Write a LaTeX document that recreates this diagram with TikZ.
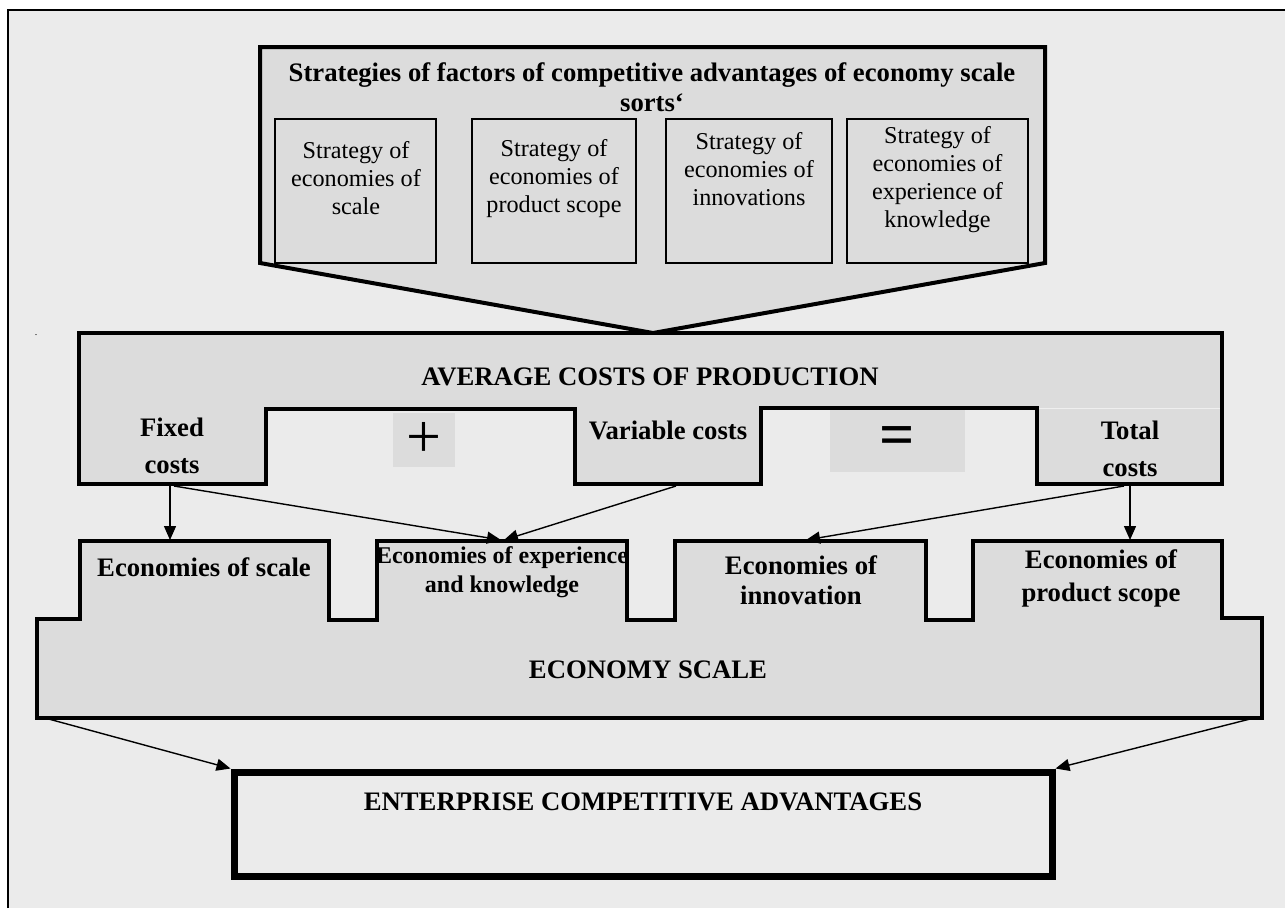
\documentclass[tikz,border=0pt]{standalone}
\usepackage{fontspec}
\setmainfont{Liberation Serif}
\usepackage{tikz}
\usetikzlibrary{arrows.meta}

\definecolor{bggray}{HTML}{EBEBEB}
\definecolor{boxgray}{HTML}{DCDCDC}

\tikzset{
  block/.style={draw=black,fill=boxgray,line width=3.5pt,line join=miter},
  stratbox/.style={draw=black,fill=boxgray,line width=1.6pt,minimum width=#1,minimum height=144pt,inner sep=0pt},
  arr/.style={line width=1.4pt,-{Triangle[length=14pt,width=12pt]}},
  bold label/.style={font=\fontsize{26.7}{30}\selectfont\bfseries,align=center,inner sep=0pt},
  cost label/.style={font=\fontsize{26.7}{37}\selectfont\bfseries,align=center,inner sep=0pt},
  plain label/.style={font=\fontsize{24.2}{28}\selectfont,align=center,inner sep=0pt},
}

\begin{document}
\begin{tikzpicture}[x=1pt,y=-1pt]
            \useasboundingbox (0,0) rectangle (1285,908);
            \fill[white] (0,0) rectangle (1285,908);
            \fill[bggray] (8,10) rectangle (1285,908);
            \draw[line width=2pt] (8,908) -- (8,10) -- (1285,10);
            \node[font=\fontsize{10}{10}\selectfont,anchor=base,inner sep=0pt] (dot) at (36,335) {.};

            \coordinate (tip) at (653,333);
            \draw[block,line width=4pt] (260,47) -- (1045,47) -- (1045,263) -- (tip) -- (260,263) -- cycle;
            \node[bold label] (title) at (652,87) {Strategies of factors of competitive advantages of economy scale\\sorts‘};

            \node[stratbox=161pt] (s1) at (355.5,191) {};
            \node[stratbox=164pt] (s2) at (554,191) {};
            \node[stratbox=166pt] (s3) at (749,191) {};
            \node[stratbox=181pt] (s4) at (937.5,191) {};
            \node[plain label] (t1) at (356,178.5) {Strategy of\\economies of\\scale};
            \node[plain label] (t2) at (554,178.5) {Strategy of\\economies of\\product scope};
            \node[plain label] (t3) at (749,169.5) {Strategy of\\economies of\\innovations};
            \node[plain label] (t4) at (937.5,180) {Strategy of\\economies of\\experience of\\knowledge};

            \draw[block] (79,333) -- (1222,333) -- (1222,484) -- (1037,484) -- (1037,408) -- (761,408) -- (761,484) -- (575,484) -- (575,409) -- (266,409) -- (266,484) -- (79,484) -- cycle;
            \draw[white!55!boxgray,line width=1pt] (1039,408) -- (1220,408);
            \node[bold label] (avg) at (650,377) {AVERAGE COSTS OF PRODUCTION};
            \node[cost label] (fixed) at (172,445.5) {Fixed\\costs};
            \node[bold label] (variable) at (668,430) {Variable costs};
            \node[cost label] (total) at (1130,448.5) {Total\\costs};
            \node[fill=boxgray,minimum width=62pt,minimum height=54pt,font=\fontsize{62}{62}\selectfont] (plus) at (424,440) {+};
            \node[fill=boxgray,minimum width=135pt,minimum height=62pt,font=\fontsize{62}{62}\selectfont\bfseries] (equal) at (897.5,441) {=};

            \draw[block] (37,619) -- (80,619) -- (80,541) -- (329,541) -- (329,620) -- (377,620) -- (377,541) -- (627,541) -- (627,620) -- (675,620) -- (675,541) -- (926,541) -- (926,620) -- (973,620) -- (973,541) -- (1222,541) -- (1222,618) -- (1262,618) -- (1262,718) -- (37,718) -- cycle;
            \node[bold label] (escale) at (204,567) {Economies of scale};
            \node[bold label,font=\fontsize{24}{29}\selectfont\bfseries] (eexp) at (502,572.5) {Economies of experience\\and knowledge};
            \node[bold label] (einno) at (801,580) {Economies of\\innovation};
            \node[bold label,font=\fontsize{26.7}{33}\selectfont\bfseries] (escope) at (1101,578.5) {Economies of\\product scope};
            \node[bold label] (economy) at (648,670) {ECONOMY SCALE};

            \node[draw,line width=7pt,minimum width=818pt,minimum height=104pt] (adv) at (643,824) {};
            \node[bold label] (advtext) at (643,802) {ENTERPRISE COMPETITIVE ADVANTAGES};

            \coordinate (fc) at (170,486);
            \coordinate (fc2) at (174,486);
            \coordinate (vc) at (676,486);
            \coordinate (tc) at (1124,486);
            \coordinate (tc2) at (1130,486);
            \coordinate (sc) at (170,540);
            \coordinate (ex) at (501,540);
            \coordinate (ex2) at (504,540);
            \coordinate (inno) at (806,540);
            \coordinate (ps) at (1130,540);
            \coordinate (es sw) at (45,718);
            \coordinate (es se) at (1254,718);

            \draw[arr] (fc) -- (sc);
            \draw[arr] (fc2) -- (ex);
            \draw[arr] (vc) -- (ex2);
            \draw[arr] (tc) -- (inno);
            \draw[arr] (tc2) -- (ps);
            \draw[arr] (es sw) -- (adv.north west);
            \draw[arr] (es se) -- (adv.north east);

        \end{tikzpicture}
\end{document}
